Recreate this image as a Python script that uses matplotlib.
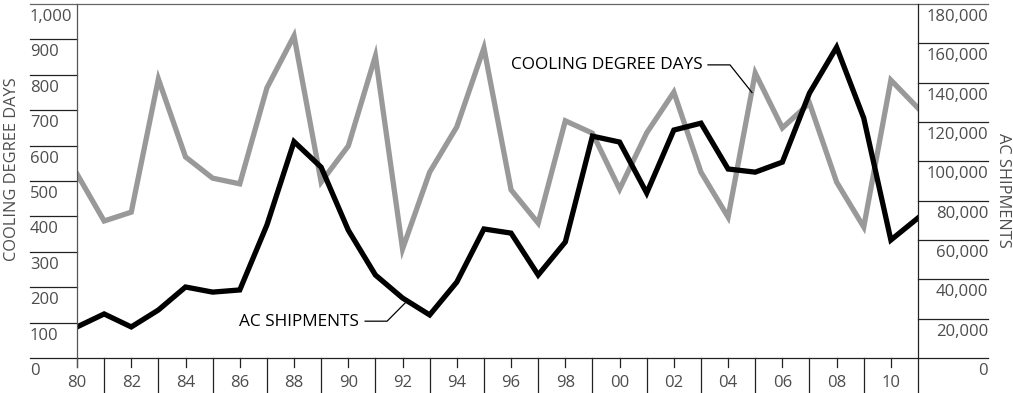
import matplotlib
matplotlib.use("Agg")
import matplotlib.pyplot as plt
import matplotlib.transforms as mtransforms
from matplotlib.lines import Line2D
import numpy as np

plt.rcParams['font.family'] = ['Open Sans', 'DejaVu Sans']

# data
years = list(range(1980, 2012))
cooling_degree_days = [520, 387, 412, 788, 568, 508, 492, 763, 910, 497,
                       599, 853, 308, 525, 653, 876, 475, 381, 670, 635,
                       477, 636, 751, 525, 398, 805, 650, 720, 497, 370,
                       785, 706]
ac_shipments = [15800, 22400, 15800, 24400, 36100, 33500, 34600, 67600, 110000, 97000,
                65000, 42200, 30500, 21900, 38600, 65600, 63500, 42200, 59000, 112800,
                109800, 83900, 115900, 119400, 96100, 94500, 99600, 134700, 158000, 122000,
                60000, 71200]
cdd_ticks = list(range(0, 1001, 100))
ac_ticks = list(range(0, 180001, 20000))
year_ticks = list(range(1980, 2012))

W, H = 1013, 393
DPI = 100
fig = plt.figure(figsize=(W / DPI, H / DPI), dpi=DPI)

def fx(px): return px / W
def fy(py): return 1 - py / H

ax = fig.add_axes([fx(77), fy(358), (918 - 77) / W, (358 - 4) / H])
ax2 = ax.twinx()
ax.set_xlim(1980, 2011)
ax.set_ylim(0, 1000)
ax2.set_ylim(0, 180000)
for a in (ax, ax2):
    for s in a.spines.values():
        s.set_visible(False)
    a.set_xticks([])
    a.set_yticks([])
    a.patch.set_visible(False)

GRAY = '#999999'
TXT = '#4d4d4d'
LINE = '#222222'
FS = 12

ax.plot(years, cooling_degree_days, color=GRAY, lw=3.8, solid_joinstyle='miter', zorder=2)
ax2.plot(years, ac_shipments, color='black', lw=3.8, solid_joinstyle='miter', zorder=3)
ax2.set_zorder(ax.get_zorder() + 1)

# frame lines in pixel space
def hline(y, x0, x1, color=LINE, lw=0.9):
    fig.add_artist(Line2D([fx(x0), fx(x1)], [fy(y), fy(y)], color=color, lw=lw))

def vline(x, y0, y1, color=LINE, lw=0.9):
    fig.add_artist(Line2D([fx(x), fx(x)], [fy(y0), fy(y1)], color=color, lw=lw))

hline(4, 30, 988, color='#666666')
hline(358, 30, 988)
vline(77, 4, 367, color='#555555')
vline(918, 4, 393)

down = mtransforms.ScaledTranslation(0, -5 / DPI, fig.dpi_scale_trans)

# left ticks + labels
left_tr = mtransforms.blended_transform_factory(fig.transFigure, ax.transData)
for v in cdd_ticks[1:-1]:
    ax.plot([fx(30), fx(77)], [v, v], transform=left_tr, color=LINE, lw=0.9, clip_on=False)
for v in cdd_ticks:
    ax.text(fx(30), v, f"{v:,}", transform=left_tr + down,
            ha='left', va='top', fontsize=FS, color=TXT)

# right ticks + labels
right_tr = mtransforms.blended_transform_factory(fig.transFigure, ax2.transData)
for v in ac_ticks[1:-1]:
    ax2.plot([fx(918), fx(988)], [v, v], transform=right_tr, color=LINE, lw=0.9, clip_on=False)
for v in ac_ticks:
    ax2.text(fx(988), v, f"{v:,}", transform=right_tr + down,
             ha='right', va='top', fontsize=FS, color=TXT)

# x ticks
bottom_tr = mtransforms.blended_transform_factory(ax.transData, fig.transFigure)
for yr in year_ticks:
    if yr % 2 == 0:
        ax.plot([yr, yr], [fy(358), fy(367)], transform=bottom_tr, color=LINE, lw=0.9, clip_on=False)
        ax.text(yr, fy(383), f"{yr % 100:02d}", transform=bottom_tr, ha='center', va='center',
                fontsize=FS, color=TXT)
    elif yr != 2011:
        ax.plot([yr, yr], [fy(358), fy(393)], transform=bottom_tr, color=LINE, lw=0.9, clip_on=False)

# axis titles
fig.text(fx(12), fy(169), "COOLING DEGREE DAYS", rotation=90, ha='center', va='center',
         fontsize=11.8, color=TXT)
fig.text(fx(1003), fy(190), "AC SHIPMENTS", rotation=270, ha='center', va='center',
         fontsize=11.8, color=TXT)

# callouts
ax.text(2003.07, 828, "COOLING DEGREE DAYS", ha='right', va='center', fontsize=12.4, color='black')
ax.plot([2003.26, 2004.07, 2004.88], [828, 828, 750], color='black', lw=0.9, zorder=4)
ax.text(1990.39, 102, "AC SHIPMENTS", ha='right', va='center', fontsize=12.4, color='black')
ax.plot([1990.62, 1991.43, 1992.09], [104, 104, 155], color='black', lw=0.9, zorder=4)

fig.savefig("out.png", dpi=DPI)
